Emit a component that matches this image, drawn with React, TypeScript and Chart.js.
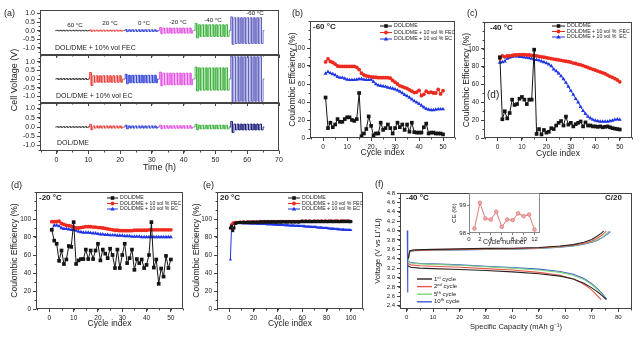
import React, { useEffect, useRef } from 'react';
import { Chart, registerables } from 'chart.js';
Chart.register(...registerables);

const FONT = '"Liberation Sans", Arial, Helvetica, sans-serif';
Chart.defaults.font.family = FONT;
Chart.defaults.color = '#222';

// ---------------- (a) cell voltage vs time ----------------
const timeTicks = [0, 10, 20, 30, 40, 50, 60, 70];
const voltTicks = [-1, -0.5, 0, 0.5, 1];
const segLabels = ['60 °C', '20 °C', '0 °C', '-20 °C', '-40 °C', '-60 °C'];
const segStart = [0, 10.4, 21.6, 32.4, 43.6, 54.8];
const segEnd = [9.9, 20.8, 31.8, 42.8, 54.3, 65.0];
const segCycles = [10, 10, 10, 10, 10, 10];
const ampFEC = [0.02, 0.03, 0.05, 0.15, 0.34, 0.75];
const firstFEC = [0.02, 0.04, 0.06, 0.18, 0.42, 0.8];
const ampEC = [0.03, 0.19, 0.22, 0.34, 0.65, 1.3];
const firstEC = [0.03, 0.38, 0.28, 0.4, 0.7, 1.35];
const ampDOL = [0.02, 0.06, 0.06, 0.07, 0.1, 0.16];
const firstDOL = [0.02, 0.15, 0.1, 0.1, 0.15, 0.3];

// ---------------- (b) -60 °C ----------------
const cycleTicks = [0, 10, 20, 30, 40, 50];
const ceTicks = [0, 20, 40, 60, 80, 100];
const bDol = [45, 11, 17, 12, 15, 21, 18, 18, 21, 23, 23, 20, 19, 21, 50, 2, 5, 10, 24, 13.5, 3, 5, 5, 17, 9, 11, 15, 11, 5, 11, 17, 12, 15, 9, 15, 7, 17, 6.5, 6, 6, 6, 12, 16, 5, 6, 6, 5, 5, 5, 4];
const bFec = [84.5, 88, 85, 84, 82, 80, 79.5, 79.5, 79.5, 79.5, 79.5, 79.5, 79.5, 78.5, 76, 72, 70, 69, 68.5, 68, 67.5, 67.5, 67, 67, 67, 67, 67, 66.5, 64, 62, 60, 58, 57, 56, 55, 53.5, 52, 50.5, 51, 53, 47, 48.5, 52, 50.5, 51, 50, 50, 54, 49, 52.5];
const bEc = [71.5, 73.5, 72, 71, 70, 68, 67, 67, 66, 65, 64.5, 64.5, 64.5, 65, 65.5, 65.5, 65, 64.5, 64.5, 65, 62.5, 60, 58.5, 58, 57.5, 57, 56, 55.5, 55, 54, 53, 51.5, 50, 48, 46.5, 45, 43, 41, 39.5, 38, 36, 34, 32.5, 31.5, 31, 31, 31.5, 32, 32, 32];

// ---------------- (c) -40 °C ----------------
const cDol = [90.5, 21, 30, 22, 28, 43, 37, 38, 44, 46, 43, 38, 43, 43, 99, 4.5, 10, 4, 9, 6, 7, 11, 10, 14, 17, 19, 14, 24, 15, 17, 13, 15.5, 17, 18.5, 13, 17.5, 14, 14, 13, 13, 12.5, 13, 12, 12.5, 13, 12, 11, 10.5, 10, 9.5];
const cFec = [89, 92, 91, 92, 92, 92.5, 93, 93, 93.5, 93.5, 93.5, 93, 93, 92.5, 92.5, 92, 91.5, 91, 90.5, 90, 89.5, 89, 88.5, 88, 87.5, 87, 86.5, 86, 85.5, 85, 84, 83.5, 82.5, 82, 81, 80, 79, 78, 77, 76, 75, 74, 73, 72, 70.5, 69, 68, 66.5, 65, 63];
const cEc = [84.5, 85, 86, 89, 90, 91, 91.5, 91.5, 91, 91, 90.5, 90, 89.5, 89, 88, 87.5, 87, 86, 85, 84, 82.5, 80.5, 77, 75, 72.5, 69.5, 66, 62, 57.5, 53, 48.5, 44, 40, 35, 30.5, 27, 24, 22, 20.5, 19.5, 19, 18.5, 18.5, 18.5, 18.5, 19, 19.5, 20.5, 21, 20.5];

// ---------------- (d) -20 °C ----------------
const dDol = [88, 76, 72.5, 53.5, 65, 50, 55, 70, 69, 96.5, 50, 54, 55.5, 55.5, 66, 55.5, 65, 55.5, 65, 72.5, 54, 66, 61.5, 56.5, 67, 60, 45.5, 66, 45.5, 60, 72.5, 51, 56.5, 66, 43.5, 55.5, 51, 55, 45.5, 49, 60, 96.5, 46, 55, 28, 45, 36, 59, 45.5, 55];
const dFec = [97, 97, 97, 97.5, 95, 94, 93, 92.5, 92, 91, 90, 90, 90.5, 91, 91.5, 91.5, 91.5, 91, 91, 90.5, 90.5, 90, 89.5, 89, 88.5, 88, 87.5, 87.5, 87, 87, 87, 87, 87, 87, 87.5, 87.5, 87.5, 87.5, 87.5, 87.5, 88, 88, 88, 88, 88, 88, 88, 88, 88, 88];
const dEc = [88, 93, 93, 92, 90, 89, 89, 88.5, 88, 88, 87, 86, 85.5, 85, 85, 85, 84.5, 84, 84, 83.5, 83, 83, 82.5, 82.5, 82, 82, 82, 81.5, 81.5, 81.5, 81, 81, 81, 80.5, 80.5, 80.5, 80.5, 80, 80, 80, 80, 80, 80, 80, 80, 80, 80, 80, 80, 80];

// ---------------- (e) 20 °C ----------------
const cycleTicksE = [0, 20, 40, 60, 80, 100];
const eDol = [90, 92, 87, 90, 95, 95.5, 96, 96, 96, 96, 96, 96.5, 96, 96, 96.5, 96, 96.5, 96, 96.5, 96.5, 96, 96.5, 96.5, 96, 96.5, 97, 96.5, 96.5, 97, 96.5, 96.5, 97, 96.5, 96.5, 97, 96.5, 97, 96.5, 96.5, 97, 96.5, 97, 96.5, 97, 97, 96.5, 97, 96.5, 97, 97, 96.5, 97, 97, 96.5, 97, 97, 96.5, 97, 97, 97.5, 97, 97, 97.5, 97, 97, 97.5, 97, 97, 97, 97.5, 97, 97, 97.5, 97, 97, 97.5, 97, 97, 97.5, 97, 97, 97.5, 97, 97.5, 97, 97, 97.5, 97, 97.5, 97, 97, 97.5, 97, 97.5, 97, 97.5, 97, 97.5, 97, 97];
const eFec = [90, 94, 95.5, 96, 96.5, 96.5, 96, 96.5, 97, 96.5, 96.5, 97, 96.5, 96.5, 97, 96.5, 97, 96.5, 97, 97, 96.5, 97, 97, 96.5, 97, 97.5, 97, 97, 97.5, 97, 97, 97.5, 97, 97, 97.5, 97, 97.5, 97, 97, 97.5, 97, 97.5, 97, 97.5, 97.5, 97, 97.5, 97, 97.5, 97.5, 97, 97.5, 97.5, 97, 97.5, 97.5, 97, 97.5, 97.5, 98, 97.5, 97.5, 98, 97.5, 97.5, 98, 97.5, 97.5, 97.5, 98, 97.5, 97.5, 98, 97.5, 97.5, 98, 97.5, 97.5, 98, 97.5, 97.5, 98, 97.5, 98, 97.5, 97.5, 98, 97.5, 98, 97.5, 97.5, 98, 97.5, 98, 97.5, 98, 97.5, 98, 97.5, 97.5];
const eEc = [55, 93, 94, 94.5, 95.5, 95.5, 95.5, 95.5, 95.4, 95.4, 95.3, 95.3, 95.2, 95.2, 95.1, 95.1, 95, 95, 94.9, 94.9, 94.8, 94.8, 94.7, 94.7, 94.6, 94.6, 94.5, 94.4, 94.4, 94.3, 94.2, 94.2, 94.1, 94, 94, 93.9, 93.8, 93.7, 93.6, 93.6, 93.5, 93.4, 93.3, 93.3, 93.2, 93.1, 93, 93, 92.9, 92.8, 92.7, 92.6, 92.6, 92.5, 92.4, 92.3, 92.2, 92.1, 92, 92, 91.9, 91.8, 91.7, 91.6, 91.5, 91.4, 91.3, 91.2, 91.1, 91, 90.9, 90.8, 90.6, 90.5, 90.4, 90.3, 90.1, 90, 89.9, 89.8, 89.6, 89.5, 89.4, 89.2, 89.1, 89, 88.9, 88.7, 88.6, 88.5, 88.4, 88.3, 88.2, 88.1, 88, 87.9, 87.9, 87.8, 87.8, 87.7];

// ---------------- (f) voltage profiles ----------------
const capTicks = [0, 10, 20, 30, 40, 50, 60, 70, 80];
const vTicksF = [2.4, 2.6, 2.8, 3.0, 3.2, 3.4, 3.6, 3.8, 4.0, 4.2, 4.4, 4.6, 4.8];
const chg1 = [[0.6, 3.4], [1.2, 3.57], [3, 3.59], [10, 3.6], [20, 3.61], [30, 3.62], [40, 3.625], [50, 3.64], [58, 3.67], [63, 3.7], [67, 3.75], [70, 3.81], [72, 3.88], [73.5, 3.94], [74.5, 3.99]];
const chg2 = [[0.6, 3.4], [1.2, 3.56], [3, 3.58], [10, 3.59], [20, 3.6], [30, 3.61], [40, 3.615], [50, 3.63], [58, 3.66], [63, 3.69], [67, 3.73], [70, 3.78], [72, 3.83], [74, 3.91], [75.5, 3.99]];
const chg5 = [[0.6, 3.38], [1.2, 3.55], [3, 3.575], [10, 3.585], [20, 3.595], [30, 3.605], [40, 3.61], [50, 3.625], [58, 3.65], [63, 3.68], [67, 3.72], [70, 3.76], [72, 3.8], [74, 3.86], [75.5, 3.93], [76.5, 3.98]];
const chg10 = [[0.6, 3.38], [1.2, 3.55], [3, 3.57], [10, 3.58], [20, 3.59], [30, 3.6], [40, 3.605], [50, 3.62], [58, 3.645], [63, 3.675], [67, 3.71], [70, 3.75], [72, 3.79], [74, 3.85], [76, 3.93], [77, 3.98]];
const dis1 = [[0.5, 3.25], [1.5, 3.22], [5, 3.2], [10, 3.19], [20, 3.17], [30, 3.15], [40, 3.12], [50, 3.08], [58, 3.03], [63, 2.97], [67, 2.88], [70, 2.78], [72, 2.7], [74, 2.61], [75.5, 2.53]];
const dis2 = [[0.5, 3.3], [1.5, 3.27], [5, 3.25], [10, 3.24], [20, 3.22], [30, 3.19], [40, 3.16], [50, 3.11], [58, 3.05], [63, 2.97], [66, 2.89], [69, 2.78], [71, 2.68], [73.5, 2.53]];
const dis5 = [[0.5, 3.34], [1.5, 3.31], [5, 3.29], [10, 3.28], [20, 3.26], [30, 3.23], [40, 3.2], [50, 3.16], [58, 3.11], [63, 3.05], [67, 2.96], [70, 2.85], [72, 2.75], [74, 2.63], [75, 2.56]];
const dis10 = [[0.5, 3.35], [1.5, 3.32], [5, 3.3], [10, 3.29], [20, 3.27], [30, 3.24], [40, 3.21], [50, 3.18], [58, 3.13], [63, 3.07], [67, 2.98], [70, 2.87], [72, 2.77], [74, 2.65], [75.6, 2.54]];
const spike10 = [[0.25, 4.0], [0.35, 2.68], [0.5, 3.35]];
const insetCycles = [1, 2, 3, 4, 5, 6, 7, 8, 9, 10, 11, 12];
const insetCE = [98.16, 99.08, 98.52, 98.48, 98.76, 98.22, 98.48, 98.46, 98.7, 98.6, 98.66, 98.12];
const insetXTicks = [0, 2, 4, 6, 8, 10, 12];
const insetYTicks = [98, 99];

// ---------------- styles ----------------
const BLACK = '#151515';
const RED = '#ee2a1e';
const BLUE = '#1f35e6';
const segColors = ['#3a3a3a', '#e8403a', '#3346d6', '#e455e4', '#3fb23f', '#6464c2'];
const NAVY = '#1c1c7a';

type Box = { x: number; y: number; w: number; h: number };
type Plot = { l: number; t: number; r: number; b: number };
type LItem = { label: string; color: string; marker?: string; lw?: number };
type Leg = { x: number; y: number; dy: number; w: number; size: number; items: LItem[] };

function drawMarker(ctx: any, kind: string, x: number, y: number, color: string) {
  ctx.fillStyle = color;
  ctx.beginPath();
  if (kind === 'rect') ctx.rect(x - 1.8, y - 1.8, 3.6, 3.6);
  else if (kind === 'circle') ctx.arc(x, y, 1.9, 0, Math.PI * 2);
  else if (kind === 'triangle') {
    ctx.moveTo(x, y - 2.3);
    ctx.lineTo(x + 2.3, y + 1.6);
    ctx.lineTo(x - 2.3, y + 1.6);
    ctx.closePath();
  }
  ctx.fill();
}

function framePlugin(color: string, minor?: { x?: number; y?: number }) {
  return {
    id: 'frame',
    afterDraw(chart: any) {
      const { ctx, chartArea: a, scales } = chart;
      ctx.save();
      ctx.strokeStyle = color;
      ctx.lineWidth = 1;
      const L = Math.round(a.left) + 0.5, T = Math.round(a.top) + 0.5;
      const R = Math.round(a.right) - 0.5, B = Math.round(a.bottom) - 0.5;
      ctx.strokeRect(L, T, R - L, B - T);
      if (minor) {
        ctx.beginPath();
        if (minor.x) {
          const s = scales.x;
          for (let v = Math.ceil(s.min / minor.x) * minor.x; v <= s.max + 1e-9; v += minor.x) {
            const px = Math.round(s.getPixelForValue(v)) + 0.5;
            ctx.moveTo(px, B);
            ctx.lineTo(px, B + 2);
          }
        }
        if (minor.y) {
          const s = scales.y;
          for (let v = Math.ceil(s.min / minor.y) * minor.y; v <= s.max + 1e-9; v += minor.y) {
            const py = Math.round(s.getPixelForValue(v)) + 0.5;
            ctx.moveTo(L, py);
            ctx.lineTo(L - 2, py);
          }
        }
        ctx.stroke();
      }
      ctx.restore();
    },
  };
}

function legendPlugin(L: Leg, box: Box) {
  return {
    id: 'miniLegend',
    afterDraw(chart: any) {
      const ctx = chart.ctx;
      ctx.save();
      ctx.font = `${L.size}px ${FONT}`;
      ctx.textBaseline = 'middle';
      ctx.textAlign = 'left';
      L.items.forEach((it, i) => {
        const x = L.x - box.x;
        const y = L.y - box.y + i * L.dy;
        ctx.strokeStyle = it.color;
        ctx.lineWidth = it.lw ?? 1;
        ctx.beginPath();
        ctx.moveTo(x, y);
        ctx.lineTo(x + L.w, y);
        ctx.stroke();
        if (it.marker) drawMarker(ctx, it.marker, x + L.w / 2, y, it.color);
        ctx.fillStyle = '#222';
        ctx.fillText(it.label, x + L.w + 2, y);
      });
      ctx.restore();
    },
  };
}

function axis(min: number, max: number, ticks: number[], o: any = {}) {
  return {
    type: 'linear',
    min,
    max,
    afterBuildTicks: (s: any) => {
      s.ticks = ticks.map((v) => ({ value: v }));
    },
    ticks: {
      font: { size: o.size ?? 6.5 },
      color: '#222',
      padding: o.pad ?? 2,
      autoSkip: false,
      maxRotation: 0,
      callback: o.fmt ?? ((v: number) => String(v)),
    },
    grid: { drawOnChartArea: false, drawTicks: true, tickLength: o.tickLen ?? 3, color: o.gridColor ?? '#444', lineWidth: 1 },
    border: { display: false },
    title: o.title
      ? { display: true, text: o.title, font: { size: o.titleSize ?? 8.5 }, color: '#222', padding: 0 }
      : { display: false },
  };
}

function lineCfg(datasets: any[], x: any, y: any) {
  return {
    type: 'line',
    data: { datasets },
    options: {
      responsive: false,
      maintainAspectRatio: false,
      animation: false,
      devicePixelRatio: 1,
      events: [],
      plugins: { legend: { display: false }, tooltip: { enabled: false } },
      elements: { line: { tension: 0 } },
      scales: { x, y },
    },
  };
}

function ChartBox(props: { box: Box; plot: Plot; make: () => any; legend?: Leg; minor?: any; frame?: string }) {
  const ref = useRef<HTMLCanvasElement>(null);
  const { box, plot } = props;
  useEffect(() => {
    const cfg = props.make();
    const o = cfg.options;
    o.layout = { padding: { left: 0, top: plot.t - box.y, right: box.x + box.w - plot.r, bottom: 0 } };
    const xh = box.y + box.h - plot.b;
    const yw = plot.l - box.x;
    const zero = (s: any) => {
      s.paddingLeft = 0;
      s.paddingRight = 0;
      s.paddingTop = 0;
      s.paddingBottom = 0;
    };
    o.scales.x.afterFit = (s: any) => {
      s.height = xh;
      zero(s);
    };
    o.scales.y.afterFit = (s: any) => {
      s.width = yw;
      zero(s);
    };
    cfg.plugins = [framePlugin(props.frame ?? '#444', props.minor)];
    if (props.legend) cfg.plugins.push(legendPlugin(props.legend, box));
    const chart = new Chart(ref.current as HTMLCanvasElement, cfg);
    return () => chart.destroy();
  }, []);
  return (
    <canvas
      ref={ref}
      width={box.w}
      height={box.h}
      style={{ position: 'absolute', left: box.x, top: box.y, width: box.w, height: box.h }}
    />
  );
}

function Txt(p: { x: number; y: number; s: number; b?: boolean; center?: boolean; children: any }) {
  return (
    <div
      style={{
        position: 'absolute',
        left: p.x,
        top: p.y - p.s * 0.6,
        fontSize: p.s,
        lineHeight: `${p.s * 1.2}px`,
        fontWeight: p.b ? 'bold' : 'normal',
        fontFamily: FONT,
        color: '#222',
        whiteSpace: 'nowrap',
        transform: p.center ? 'translateX(-50%)' : undefined,
      }}
    >
      {p.children}
    </div>
  );
}

// build a charge/discharge square wave for one temperature segment from the read amplitudes
function wave(i: number, amp: number[], first: number[]) {
  const s = segStart[i], e = segEnd[i], n = segCycles[i];
  const P = (e - s) / n;
  const pts: any[] = [{ x: s - 0.4, y: 0 }, { x: s, y: 0 }];
  for (let k = 0; k < n; k++) {
    const a = k === 0 ? first[i] : amp[i];
    const t = s + k * P;
    pts.push({ x: t, y: a }, { x: t + P / 2, y: a }, { x: t + P / 2, y: -a }, { x: t + P, y: -a });
  }
  pts.push({ x: e, y: 0 }, { x: e + 0.4, y: 0 });
  return pts;
}

function waveSets(amp: number[], first: number[], lastColor: string) {
  return segStart.map((_, i) => ({
    data: wave(i, amp, first),
    borderColor: i === 5 ? lastColor : segColors[i],
    borderWidth: 0.9,
    pointRadius: 0,
  }));
}

function aCfg(amp: number[], first: number[], lastColor: string, yMin: number, yMax: number, showX: boolean) {
  return lineCfg(
    waveSets(amp, first, lastColor),
    axis(-5.2, 70, timeTicks, showX ? { size: 7, title: 'Time (h)', titleSize: 9 } : { size: 7, fmt: () => '' }),
    axis(yMin, yMax, voltTicks, { size: 7, fmt: (v: number) => v.toFixed(1) })
  );
}

function ceSets(dol: number[], fec: number[], ec: number[], r = 1) {
  const mk = (arr: number[], color: string, style: string, rad: number) => ({
    data: arr.map((y, i) => ({ x: i + 1, y })),
    borderColor: color,
    backgroundColor: color,
    borderWidth: 1,
    pointStyle: style,
    pointRadius: rad,
    pointBorderWidth: 0,
    clip: 5,
  });
  return [mk(dol, BLACK, 'rect', 2.6 * r), mk(fec, RED, 'circle', 1.9 * r), mk(ec, BLUE, 'triangle', 2.3 * r)];
}

function ceCfg(dol: number[], fec: number[], ec: number[], xMin: number, xMax: number, xt: number[], r = 1) {
  return lineCfg(
    ceSets(dol, fec, ec, r),
    axis(xMin, xMax, xt, { title: 'Cycle index' }),
    axis(0, 130, ceTicks, { title: 'Coulombic Efficiency (%)' })
  );
}

const ceLegendItems = (fecLabel: string, ecLabel: string): LItem[] => [
  { label: 'DOL/DME', color: BLACK, marker: 'rect' },
  { label: fecLabel, color: RED, marker: 'circle' },
  { label: ecLabel, color: BLUE, marker: 'triangle' },
];

const pairs = (arr: number[][]) => arr.map(([x, y]) => ({ x, y }));

function fCfg() {
  const mk = (arr: number[][], color: string) => ({
    data: pairs(arr),
    borderColor: color,
    borderWidth: 1.1,
    pointRadius: 0,
  });
  return lineCfg(
    [
      mk(chg1, '#2b2222'),
      mk(dis1, '#2b2222'),
      mk(chg2, '#e8574a'),
      mk(dis2, '#e8574a'),
      mk(chg5, '#7fd27f'),
      mk(dis5, '#7fd27f'),
      mk(chg10, '#3d5bd3'),
      mk(dis10, '#3d5bd3'),
      mk(spike10, '#3d5bd3'),
    ],
    axis(-2.5, 85.2, capTicks, { size: 6, title: 'Specific Capacity (mAh g⁻¹)', titleSize: 7.5 }),
    axis(2.33, 4.8, vTicksF, { size: 6, fmt: (v: number) => v.toFixed(1), title: 'Voltage (V vs Li⁺/Li)', titleSize: 7.5 })
  );
}

function insetCfg() {
  return lineCfg(
    [
      {
        data: insetCycles.map((c, i) => ({ x: c, y: insetCE[i] })),
        borderColor: '#d86a6a',
        backgroundColor: '#f3aaaa',
        borderWidth: 0.9,
        pointRadius: 1.8,
        pointBorderWidth: 0.7,
        pointBorderColor: '#d86a6a',
        clip: 4,
      },
    ],
    axis(0, 13, insetXTicks, { size: 6, title: 'Cycle number', titleSize: 7, tickLen: 2, pad: 1, gridColor: '#777' }),
    axis(98, 99.43, insetYTicks, { size: 6, title: 'CE (%)', titleSize: 6, tickLen: 2, pad: 1, gridColor: '#777' })
  );
}

export default function App() {
  return (
    <div
      style={{
        position: 'absolute',
        left: 0,
        top: 0,
        width: 640,
        height: 337,
        background: '#fff',
        overflow: 'hidden',
        fontFamily: FONT,
        color: '#222',
      }}
    >
      {/* (a) */}
      <ChartBox box={{ x: 0, y: 4, w: 285, h: 54 }} plot={{ l: 40, t: 10, r: 279, b: 55 }} minor={{ x: 5, y: 0.25 }}
        make={() => aCfg(ampFEC, firstFEC, segColors[5], -1.42, 1.2, false)} />
      <ChartBox box={{ x: 0, y: 49, w: 285, h: 57 }} plot={{ l: 40, t: 55, r: 279, b: 103 }} minor={{ x: 5, y: 0.25 }}
        make={() => aCfg(ampEC, firstEC, segColors[5], -1.4, 1.4, false)} />
      <ChartBox box={{ x: 0, y: 97, w: 285, h: 76 }} plot={{ l: 40, t: 103, r: 279, b: 151 }} minor={{ x: 5, y: 0.25 }}
        make={() => aCfg(ampDOL, firstDOL, NAVY, -1.3, 1.3, true)} />

      {/* (b) */}
      <ChartBox box={{ x: 288, y: 15, w: 172, h: 143 }} plot={{ l: 310, t: 21, r: 455, b: 138 }} minor={{ x: 5, y: 10 }}
        make={() => ceCfg(bDol, bFec, bEc, -5.5, 55, cycleTicks)}
        legend={{ x: 380, y: 26, dy: 6.5, w: 12, size: 5.2, items: ceLegendItems('DOL/DME + 10 vol % FEC', 'DOL/DME + 10 vol % EC') }} />

      {/* (c) */}
      <ChartBox box={{ x: 462, y: 15, w: 178, h: 144 }} plot={{ l: 484, t: 22, r: 632, b: 138 }} minor={{ x: 5, y: 10 }}
        make={() => ceCfg(cDol, cFec, cEc, -5.5, 55, cycleTicks)}
        legend={{ x: 552, y: 26, dy: 5.5, w: 13, size: 5.2, items: ceLegendItems('DOL/DME + 10 vol %  FEC', 'DOL/DME + 10 vol %  EC') }} />

      {/* (d) */}
      <ChartBox box={{ x: 10, y: 185, w: 180, h: 144 }} plot={{ l: 36, t: 192, r: 183, b: 309 }} minor={{ x: 5, y: 10 }}
        make={() => ceCfg(dDol, dFec, dEc, -5.5, 55, cycleTicks)}
        legend={{ x: 107, y: 198, dy: 5.5, w: 11, size: 5.2, items: ceLegendItems('DOL/DME + 10 vol % FEC', 'DOL/DME + 10 vol % EC') }} />

      {/* (e) */}
      <ChartBox box={{ x: 192, y: 185, w: 176, h: 144 }} plot={{ l: 217, t: 192, r: 363, b: 309 }} minor={{ x: 10, y: 10 }}
        make={() => ceCfg(eDol, eFec, eEc, -10, 110, cycleTicksE, 0.8)}
        legend={{ x: 288, y: 198, dy: 5.5, w: 12, size: 5.2, items: ceLegendItems('DOL/DME + 10 vol % FEC', 'DOL/DME + 10 vol % EC') }} />

      {/* (f) */}
      <ChartBox box={{ x: 373, y: 187, w: 267, h: 144 }} plot={{ l: 400, t: 193, r: 632, b: 309 }} minor={{ x: 5, y: 0.1 }}
        make={fCfg}
        legend={{
          x: 417, y: 279, dy: 7.6, w: 15, size: 6,
          items: [
            { label: '1ˢᵗ cycle', color: '#2b2222', lw: 1.4 },
            { label: '2ⁿᵈ cycle', color: '#e8574a', lw: 1.4 },
            { label: '5ᵗʰ cycle', color: '#7fd27f', lw: 1.4 },
            { label: '10ᵗʰ cycle', color: '#3d5bd3', lw: 1.4 },
          ],
        }} />
      <ChartBox box={{ x: 451, y: 188, w: 95, h: 58 }} plot={{ l: 469, t: 193, r: 540, b: 233 }} frame="#888"
        make={insetCfg} />

      {/* free text */}
      <div style={{ position: 'absolute', left: 14, top: 80, transform: 'translate(-50%,-50%) rotate(-90deg)', fontSize: 9, whiteSpace: 'nowrap', fontFamily: FONT, color: '#222' }}>
        Cell Voltage (V)
      </div>
      <Txt x={4} y={13} s={9}>(a)</Txt>
      <Txt x={292} y={13} s={9}>(b)</Txt>
      <Txt x={467} y={13} s={9}>(c)</Txt>
      <Txt x={11} y={185} s={9}>(d)</Txt>
      <Txt x={203} y={185} s={9}>(e)</Txt>
      <Txt x={375} y={184} s={9}>(f)</Txt>
      <Txt x={487} y={95} s={10}>(d)</Txt>

      <Txt x={75} y={25} s={6.2} center>{segLabels[0]}</Txt>
      <Txt x={110} y={23} s={6.2} center>{segLabels[1]}</Txt>
      <Txt x={144} y={23} s={6.2} center>{segLabels[2]}</Txt>
      <Txt x={178} y={22} s={6.2} center>{segLabels[3]}</Txt>
      <Txt x={213} y={20} s={6.2} center>{segLabels[4]}</Txt>
      <Txt x={255} y={13} s={6.2} center>{segLabels[5]}</Txt>
      <Txt x={55} y={48} s={7}>DOL/DME + 10% vol FEC</Txt>
      <Txt x={56} y={96} s={7}>DOL/DME + 10% vol EC</Txt>
      <Txt x={57} y={143} s={7}>DOL/DME</Txt>

      <Txt x={313} y={27} s={8} b>-60 °C</Txt>
      <Txt x={490} y={28} s={8} b>-40 °C</Txt>
      <Txt x={39} y={198} s={8} b>-20 °C</Txt>
      <Txt x={220} y={198} s={8} b>20 °C</Txt>
      <Txt x={406} y={198} s={8} b>-40 °C</Txt>
      <Txt x={605} y={198} s={8} b>C/20</Txt>
    </div>
  );
}
